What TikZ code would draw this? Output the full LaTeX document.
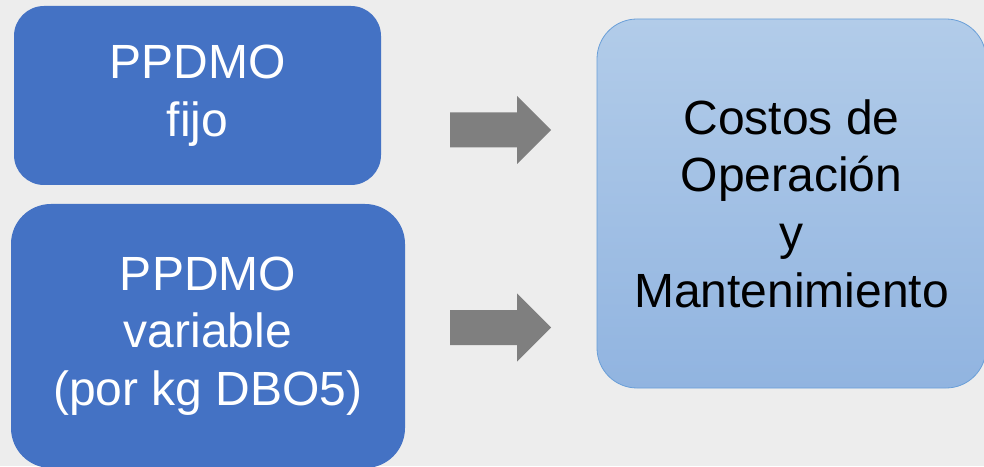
\documentclass[tikz,border=0pt]{standalone}
\usepackage{fontspec}
\setmainfont{Liberation Sans}
\usepackage{xcolor}
\usepackage{tikz}
\usetikzlibrary{positioning}

\definecolor{bgGray}{HTML}{EDEDED}
\definecolor{ppdmoBlue}{HTML}{4472C4}
\definecolor{costTop}{HTML}{B2CCE9}
\definecolor{costBottom}{HTML}{91B4E0}
\definecolor{costLine}{HTML}{6A9FD8}
\definecolor{arrowGray}{HTML}{7F7F7F}

\begin{document}
\begin{tikzpicture}[
  x=1pt, y=1pt,
  every node/.style={align=center, inner sep=0pt, font=\fontsize{48}{57.6}\selectfont},
  ppdmo/.style={rectangle, fill=ppdmoBlue, text=white},
  costos/.style={rectangle, draw=costLine, line width=0.8pt, top color=costTop,
    bottom color=costBottom, rounded corners=40pt, text=black,
    minimum width=389pt, minimum height=369pt},
  blockarrow/.pic={
    \fill[arrowGray] (0,-17.5) -- (67,-17.5) -- (67,-34) -- (101,0)
      -- (67,34) -- (67,17.5) -- (0,17.5) -- cycle;
  }
]
\fill[bgGray] (0,0) rectangle (984,466);
\useasboundingbox (0,0) rectangle (984,466);

% left boxes
\node[ppdmo, rounded corners=30pt, minimum width=367pt, minimum height=179pt]
  (fijo) at (197.5,370.5) {PPDMO\\fijo};
\node[ppdmo, rounded corners=40pt, minimum width=394pt, minimum height=264pt]
  (variable) at (208,130) {PPDMO\\variable\\(por kg DBO5)};

% right box
\node[costos] (costos) at (791.5,262.5) {Costos de\\Operación\\y\\Mantenimiento};

% arrows
\pic at (450,336) {blockarrow};
\pic at (450,138.5) {blockarrow};
\end{tikzpicture}
\end{document}
